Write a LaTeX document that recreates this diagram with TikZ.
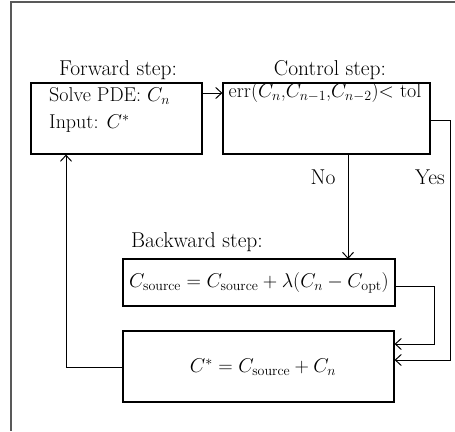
\RequirePackage{fix-cm}
\documentclass[tikz,border=0pt]{standalone}
\usepackage{fontspec}
\usetikzlibrary{arrows.meta}
\begin{document}
\begin{tikzpicture}[x=1pt,y=-1pt,
  box/.style={draw, line width=1.1pt, inner sep=0pt},
  txt/.style={inner sep=0pt, font=\fontsize{20}{24}\selectfont},
  ttl/.style={inner sep=0pt, font=\fontsize{21.5}{25}\selectfont},
  conn/.style={line width=1pt, -{Straight Barb[length=6pt,width=11pt]}}]
\useasboundingbox (0,0) rectangle (455,431);
\draw[line width=1.2pt, gray!70!black] (455,2) -- (11,2) -- (11,431);
% boxes
\node[box, minimum width=171pt, minimum height=71pt] (fwd) at (116.5,118.5) {};
\node[box, minimum width=207pt, minimum height=71pt] (ctl) at (326.5,118.5) {};
\node[box, minimum width=272pt, minimum height=47pt] (bwd) at (259,282.5) {};
\node[box, minimum width=271pt, minimum height=71pt] (upd) at (258.5,366.5) {};
% titles
\node[ttl] (tf) at (118,70) {Forward step:};
\node[ttl] (tc) at (330,70) {Control step:};
\node[ttl] (tb) at (197,242) {Backward step:};
% contents
\node[txt, align=left, anchor=west] (fwdtext) at (49,110) {Solve PDE: $C_n$\\[3pt] Input: $C^*$};
\node[txt] (ctltext) at (325,93) {err($C_n$,$C_{n-1}$,$C_{n-2}$)$<$ tol};
\node[txt] (bwdtext) at (bwd.center) {$C_{\mathrm{source}} = C_{\mathrm{source}} + \lambda(C_n - C_{\mathrm{opt}})$};
\node[txt] (updtext) at (263,367) {$C^* = C_{\mathrm{source}} + C_n$};
% labels
\node[ttl] (no) at (323,177) {No};
\node[ttl] (yes) at (430,177) {Yes};
% connectors
\coordinate (r1) at (450,120.5);
\coordinate (r2) at (434,286);
\coordinate (l1) at (66,367);
\draw[conn] (fwd.east |- ctltext) -- (ctl.west |- ctltext);
\draw[conn] (348,154) -- (348,259);
\draw[conn] (ctl.east |- r1) -- (r1) -- (r1 |- 0,360) -- (upd.east |- 0,360);
\draw[conn] (bwd.east |- r2) -- (r2) -- (r2 |- 0,344) -- (upd.east |- 0,344);
\draw[conn] (upd.west |- l1) -- (l1) -- (l1 |- fwd.south);
\end{tikzpicture}
\end{document}
